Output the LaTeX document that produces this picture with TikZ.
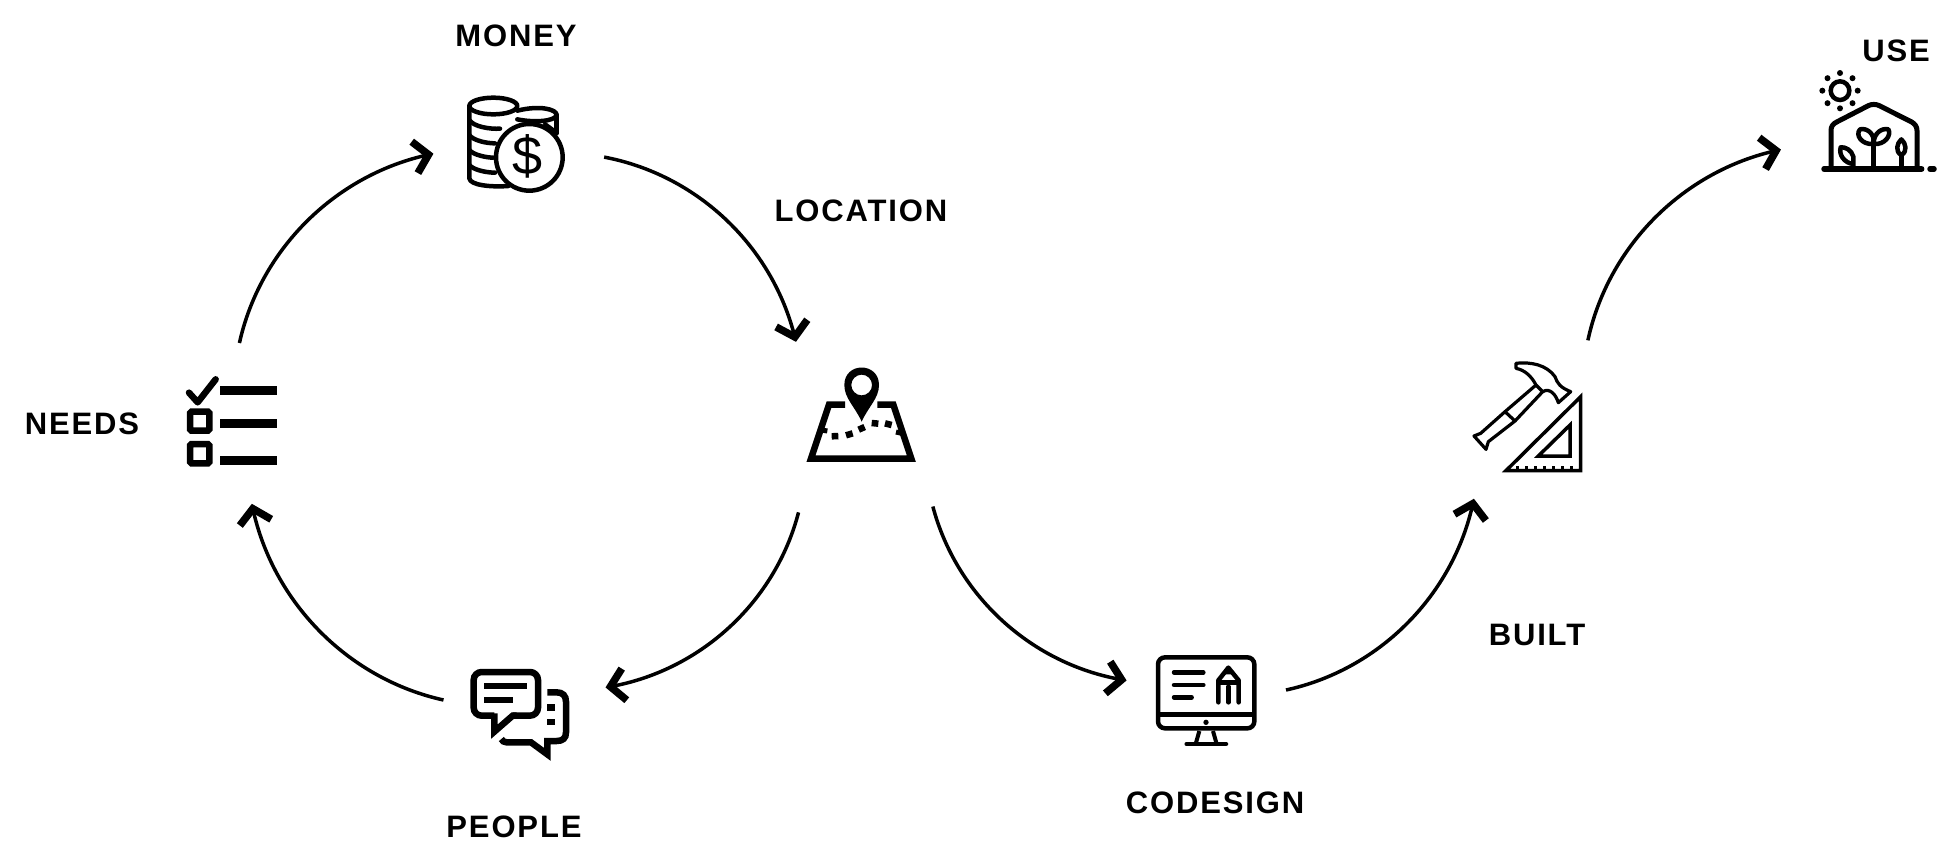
\documentclass[tikz,border=0pt]{standalone}
\usepackage{fontspec}
\setmainfont{Liberation Sans}[LetterSpace=6]
\usetikzlibrary{arrows.meta,bending}
\tikzset{
  x=1pt,y=-1pt,
  spot/.style={circle,inner sep=0pt,outer sep=0pt,minimum size=#1},
  conn/.style={line width=3.5pt,-{Straight Barb[length=14pt,width=32pt,line width=7.5pt]},shorten >=-2pt},
  arcL/.style={bend left=33,looseness=0.92},
  arcR/.style={bend right=33,looseness=0.92},
  lab/.style={font=\fontsize{31}{31}\selectfont\bfseries,inner sep=0pt,anchor=center},
  zm/.style 2 args={shift={(#1,#2)},x=0.33333pt,y=-0.33333pt},
  ic/.style={line width=#1,line join=round,line cap=round,black},
  ic/.default=4pt,
}
\begin{document}
\begin{tikzpicture}
\useasboundingbox (0,0) rectangle (1947,855);
% ---- anchors for connectors
\node[spot=164pt] (needs) at (238,425) {};
\node[spot=174pt] (money) at (518,145) {};
\node[spot=216pt] (location) at (862,425) {};
\node[spot=165pt] (people) at (526,700) {};
\node[spot=162pt] (codesign) at (1205,690) {};
\node[spot=197pt] (built) at (1530,420) {};
\node[spot=182pt] (use) at (1870,150) {};
% ---- connectors
\draw[conn] (needs.89) to[arcL] (money.186);
\draw[conn] (money.-8) to[arcL] (location.128);
\draw[conn] (location.234.6) to[arcL] (people.9);
\draw[conn] (people.180) to[arcL] (needs.-80);
\draw[conn] (location.-49.6) to[arcR] (codesign.173);
\draw[conn] (codesign.0) to[arcR] (built.235);
\draw[conn] (built.54.4) to[arcL] (use.180);
% ---- labels
\node[lab] (tmoney) at (516,36) {MONEY};
\node[lab] (tlocation) at (861,211) {LOCATION};
\node[lab] (tneeds) at (82,424) {NEEDS};
\node[lab] (tpeople) at (514,827) {PEOPLE};
\node[lab] (tcodesign) at (1215,803) {CODESIGN};
\node[lab] (tbuilt) at (1537,635) {BUILT};
\node[lab] (tuse) at (1896,51) {USE};
% ---- money icon
\begin{scope}[zm={440}{70}]
\draw[ic=4.5pt] (232,122) .. controls (300,105) and (350,118) .. (350,135) .. controls (345,155) and (280,158) .. (232,148);
\draw[ic=4.5pt] (350,135) -- (350,190);
\draw[ic=4pt] (315,162) -- (345,184);
\draw[ic=4.5pt,fill=white] (160,108) ellipse (72 and 25);
\draw[ic=4.5pt] (88,108) -- (88,325) .. controls (90,345) and (150,352) .. (205,348);
\draw[ic=4.5pt] (88,150) .. controls (100,170) and (150,178) .. (180,176);
\draw[ic=4.5pt] (88,195) .. controls (100,212) and (140,220) .. (165,220);
\draw[ic=4.5pt] (88,240) .. controls (100,255) and (140,263) .. (160,263);
\draw[ic=4.5pt] (88,285) .. controls (100,300) and (140,308) .. (165,308);
\draw[ic=4.5pt,fill=white] (268,262) circle (100);
\node[inner sep=0pt,font=\fontsize{54}{54}\selectfont,text=black] (dollar) at (263,258) {\$};
\end{scope}
% ---- needs icon
\begin{scope}[zm={170}{360}]
\fill (150,79) rectangle (320,105);
\fill (150,177) rectangle (320,204);
\fill (150,287) rectangle (320,314);
\draw[ic=6.5pt] (57,98) -- (83,127) -- (137,58);
\draw[line width=6.5pt,rounded corners=1.5pt] (60,155) rectangle (118,212);
\draw[line width=6.5pt,rounded corners=1.5pt] (60,252) rectangle (118,310);
\end{scope}
% ---- location icon
\begin{scope}[zm={790}{350}]
\draw[line width=6.5pt,miter limit=4] (165,164) -- (117,164) -- (63,326) -- (364,326) -- (310,164) -- (262,164);
\fill[even odd rule] (215,215) .. controls (195,170) and (163,145) .. (163,105) .. controls (163,35) and (267,35) .. (267,105) .. controls (267,145) and (235,170) .. (215,215) (215,105) circle (31);
\draw[line width=6.5pt] (125,259) -- (145,258);
\draw[line width=6.5pt] (168,256) -- (188,250);
\draw[line width=6.5pt] (206,239) -- (224,231);
\draw[line width=6.5pt] (245,219) -- (265,221);
\draw[line width=6.5pt] (285,220) -- (305,225);
\draw[line width=5pt] (95,240) -- (112,243);
\draw[line width=5pt] (318,246) -- (335,250);
\end{scope}
% ---- people icon
\begin{scope}[zm={460}{655}]
\draw[line width=6.5pt,rounded corners=8pt] (103,182) -- (41,182) -- (41,51) -- (234,51) -- (234,182) -- (158,182);
\draw[line width=6.5pt,line join=miter] (170,182) -- (158,182) -- (103,230) -- (103,175);
\fill (72,83) rectangle (200,101);
\fill (72,126) rectangle (158,144);
\draw[line width=6.5pt,line join=miter] (262,112) -- (290,112) .. controls (308,112) and (318,122) .. (318,140) -- (318,232) .. controls (318,250) and (308,258) .. (290,258) -- (262,258) -- (262,298) -- (213,262) -- (140,262) .. controls (132,262) and (127,258) .. (124,252);
\fill (262,148) rectangle (284,168);
\fill (262,191) rectangle (284,211);
\end{scope}
% ---- codesign icon
\begin{scope}[zm={1140}{645}]
\draw[line width=4.5pt,rounded corners=7pt] (54,37) rectangle (343,250);
\draw[line width=4.5pt] (54,208) -- (343,208);
\fill (198,232) circle (8);
\draw[line width=4pt] (178,258) -- (167,297);
\draw[line width=4pt] (219,258) -- (230,297);
\draw[ic=4.5pt] (140,297) -- (258,297);
\draw[ic=4.5pt] (102,82) -- (190,82);
\draw[ic=4.5pt] (102,120) -- (190,120);
\draw[ic=4.5pt] (102,157) -- (155,157);
\draw[ic=4.5pt] (235,172) -- (235,106) -- (265,68) -- (296,106) -- (296,172);
\draw[ic=4.5pt] (235,112) -- (296,112);
\draw[ic=4.5pt] (265,125) -- (265,172);
\fill (251,88) -- (265,68) -- (280,88) -- cycle;
\end{scope}
% ---- built icon
\begin{scope}[zm={1460}{350}]
\draw[line width=3.5pt,line join=miter] (362,140) -- (362,362) -- (138,362) -- cycle;
\draw[line width=3.5pt,line join=miter] (330,225) -- (330,318) -- (235,318) -- cycle;
\foreach \i in {0,...,6} {\draw[line width=3pt] (172+\i*27,362) -- (172+\i*27,347);}
\draw[line width=3.2pt,line join=round]
  (228,105) .. controls (215,80) and (195,60) .. (168,55) -- (168,40)
  .. controls (215,35) and (260,45) .. (285,80) .. controls (292,100) and (300,112) .. (332,125)
  -- (295,158) .. controls (288,135) and (270,112) .. (248,125) -- cycle;
\draw[line width=3.2pt,line join=round] (228,105) -- (135,185) -- (62,250) -- (42,258) -- (78,298) -- (85,275) -- (165,213) -- (248,125);
\draw[line width=3.2pt] (135,185) -- (165,213);
\end{scope}
% ---- use icon
\begin{scope}[zm={1800}{60}]
\draw[line width=4.5pt] (120,92) circle (28);
\foreach \a in {0,45,...,315} {\fill (120,92) ++(\a:53) circle (9);}
\draw[ic=5.5pt] (72,327) -- (365,327);
\draw[ic=5.5pt] (390,327) -- (402,327);
\draw[ic=5pt] (93,327) -- (93,212) .. controls (93,200) and (98,192) .. (110,186) -- (205,137) .. controls (215,132) and (228,132) .. (238,137) -- (335,186) .. controls (345,192) and (351,200) .. (351,212) -- (351,327);
\draw[ic=4.5pt] (221,327) -- (221,240);
\draw[ic=4.5pt] (221,252) .. controls (185,255) and (165,225) .. (180,208) .. controls (200,203) and (225,220) .. (221,252) .. controls (220,220) and (245,203) .. (265,208) .. controls (275,225) and (255,255) .. (221,252);
\draw[ic=4.5pt] (160,327) -- (160,290) .. controls (155,270) and (135,260) .. (122,262) .. controls (115,285) and (135,310) .. (160,312);
\draw[ic=4.5pt] (304,327) -- (304,285);
\draw[ic=4.5pt] (304,238) .. controls (290,250) and (285,275) .. (304,285) .. controls (323,275) and (318,250) .. (304,238) -- cycle;
\end{scope}
\end{tikzpicture}
\end{document}
